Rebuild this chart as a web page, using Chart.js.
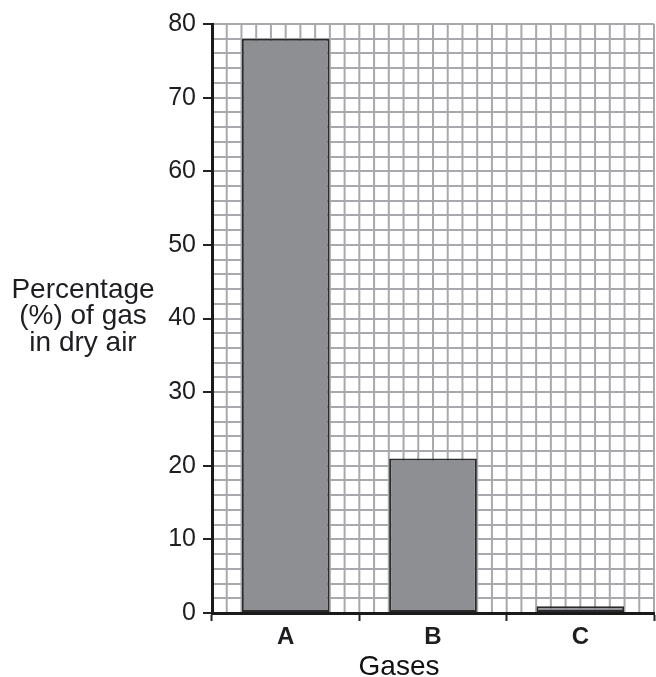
<!DOCTYPE html>
<html>
<head>
<meta charset="utf-8">
<script src="https://cdn.jsdelivr.net/npm/chart.js@4.4.1/dist/chart.umd.min.js"></script>
<style>
html,body{margin:0;padding:0;background:#fff;}
#wrap{position:relative;width:656px;height:677px;}
</style>
</head>
<body>
<div id="wrap"><canvas id="c" width="656" height="677"></canvas></div>
<script>
const categories = ['A', 'B', 'C'];
const percentages = [78, 21, 0.9];
const yTitleLines = ['Percentage', '(%) of gas', 'in dry air'];
const xTitle = 'Gases';

const FONT = "'Liberation Sans', Arial, sans-serif";
const GRID = '#a9a9ad';
const TEXT = '#1e1e22';

const minorGrid = {
  id: 'minorGrid',
  beforeDraw(chart) {
    const ctx = chart.ctx;
    const a = chart.chartArea;
    const x = chart.scales.x;
    const n = categories.length * 10;
    ctx.save();
    ctx.strokeStyle = GRID;
    ctx.lineWidth = 2;
    for (let i = 1; i <= n; i++) {
      const px = x.getPixelForDecimal(i / n);
      ctx.beginPath();
      ctx.moveTo(px, a.top);
      ctx.lineTo(px, a.bottom);
      ctx.stroke();
    }
    ctx.restore();
  },
  afterDraw(chart) {
    const ctx = chart.ctx;
    const y = chart.scales.y;
    ctx.save();
    ctx.font = '28px ' + FONT;
    ctx.fillStyle = TEXT;
    ctx.textAlign = 'center';
    ctx.textBaseline = 'alphabetic';
    const base = y.getPixelForValue(40) + 5.5;
    yTitleLines.forEach((t, i) => {
      ctx.fillText(t, 83, base - 26.5 + i * 26.5);
    });
    ctx.fillStyle = '#111';
    ctx.fillText(xTitle, 399, 675);
    ctx.restore();
  }
};

new Chart(document.getElementById('c'), {
  type: 'bar',
  data: {
    labels: categories,
    datasets: [{
      data: percentages,
      backgroundColor: '#8e8f93',
      borderColor: '#2a2a2a',
      borderWidth: 2,
      borderSkipped: false,
      categoryPercentage: 1,
      barPercentage: 0.595
    }]
  },
  options: {
    responsive: false,
    animation: false,
    layout: { padding: { top: 24, right: 2, left: 0, bottom: 0 } },
    plugins: { legend: { display: false }, tooltip: { enabled: false } },
    scales: {
      x: {
        offset: true,
        grid: {
          offset: true,
          drawOnChartArea: false,
          tickColor: '#222',
          tickLength: 8,
          tickWidth: 2
        },
        border: { color: '#1a1a1a', width: 3 },
        ticks: {
          color: TEXT,
          font: { family: FONT, size: 24, weight: 'bold' },
          padding: 2
        },
        afterFit(s) { s.height = 64; }
      },
      y: {
        min: 0,
        max: 80,
        grid: {
          color: GRID,
          lineWidth: 2,
          tickLength: 9,
          tickWidth: 2,
          tickColor: (c) => (c.tick && c.tick.value % 10 === 0) ? '#222' : 'rgba(0,0,0,0)'
        },
        border: { color: '#1a1a1a', width: 3 },
        ticks: {
          stepSize: 2,
          autoSkip: false,
          color: TEXT,
          font: { family: FONT, size: 25 },
          padding: 7,
          callback: (v) => (v % 10 === 0 ? String(v) : '')
        },
        afterFit(s) { s.width = 212; }
      }
    }
  },
  plugins: [minorGrid]
});
</script>
</body>
</html>
